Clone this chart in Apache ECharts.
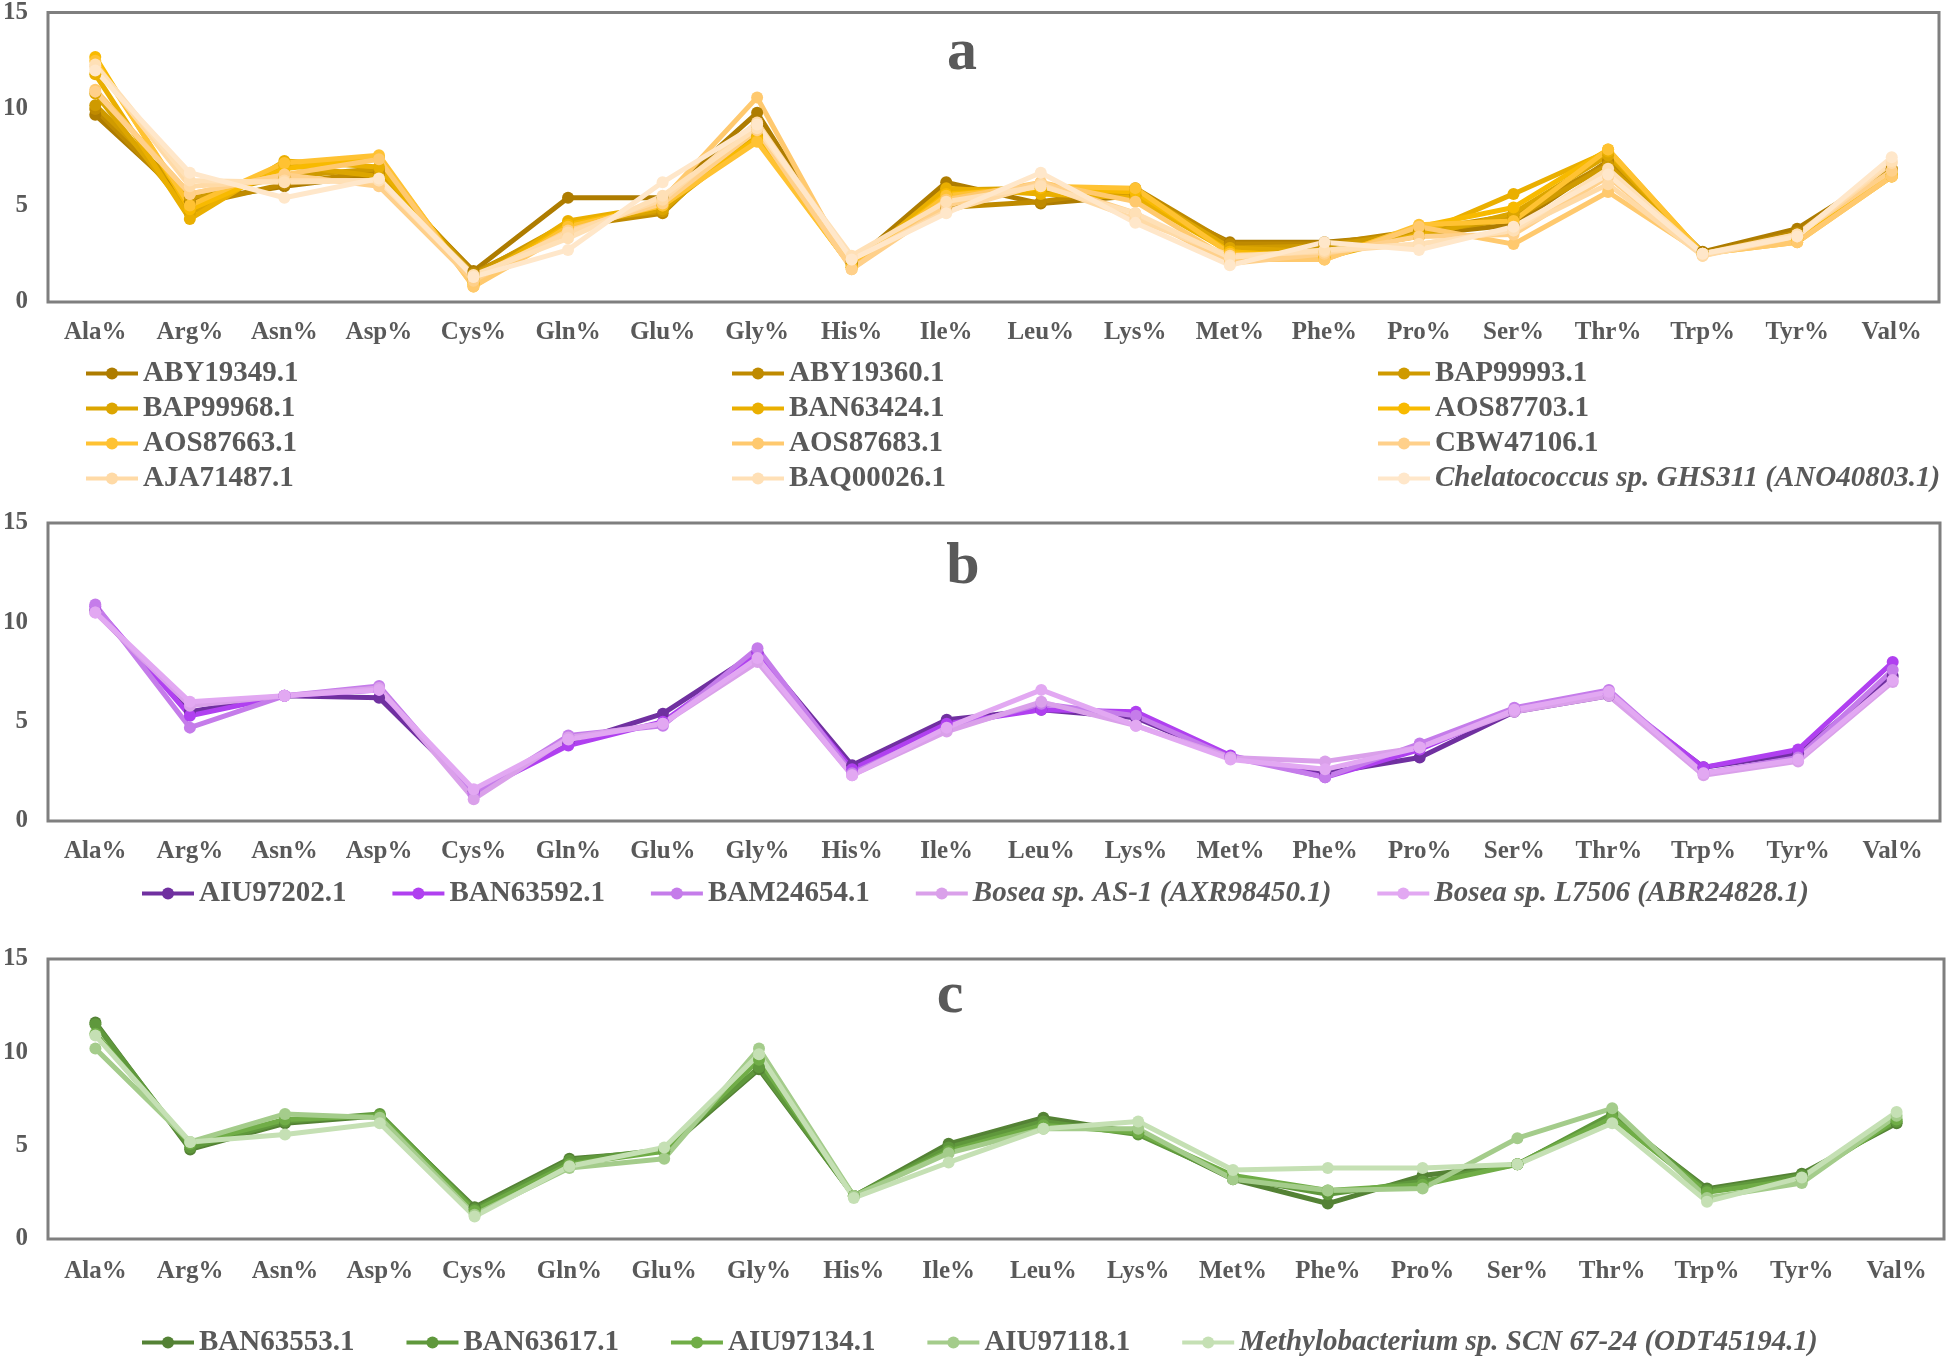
<!DOCTYPE html>
<html>
<head>
<meta charset="utf-8">
<script src="https://cdn.jsdelivr.net/npm/echarts@6/dist/echarts.min.js"></script>
<style>
html,body{margin:0;padding:0;background:#fff;}
#chart{width:1947px;height:1359px;}
</style>
</head>
<body>
<div id="chart"></div>
<script>
// ---------- DATA ----------
const categories = ['Ala%','Arg%','Asn%','Asp%','Cys%','Gln%','Glu%','Gly%','His%','Ile%','Leu%','Lys%','Met%','Phe%','Pro%','Ser%','Thr%','Trp%','Tyr%','Val%'];
const yTicks = [0, 5, 10, 15];

// Panel a
const namesA = ['ABY19349.1','ABY19360.1','BAP99993.1','BAP99968.1','BAN63424.1','AOS87703.1','AOS87663.1','AOS87683.1','CBW47106.1','AJA71487.1','BAQ00026.1','Chelatococcus sp. GHS311 (ANO40803.1)'];
const colorsA = ['#AE7C00','#BF8A00','#CF9A00','#DCA500','#EAAF00','#F8BA00','#FFC232','#FFC96E','#FFD08A','#FFDAA6','#FFE0B6','#FFE7CA'];
const a_ABY19349 = [9.7,5.2,6.0,6.6,1.6,5.4,5.4,9.8,2.0,6.2,5.1,5.5,3.1,3.1,3.5,4.0,7.3,2.6,3.8,6.9];
const a_ABY19360 = [10.0,5.0,6.1,6.8,1.5,3.9,4.6,9.3,2.1,4.9,5.2,5.9,3.0,3.0,3.7,4.5,7.2,2.5,3.6,6.9];
const a_BAP99993 = [10.2,5.4,6.5,6.9,1.4,4.1,4.7,9.0,2.0,5.6,5.8,5.6,2.8,2.9,3.6,4.3,7.1,2.5,3.5,6.8];
const a_BAP99968 = [10.8,4.6,7.1,6.5,1.2,4.0,4.8,8.6,1.9,5.8,5.9,5.8,2.8,2.6,3.4,4.6,7.6,2.5,3.3,6.6];
const a_BAN63424 = [11.8,4.3,7.3,7.0,1.0,4.2,5.0,8.4,1.8,5.9,5.6,5.4,2.6,2.3,3.5,5.6,7.8,2.5,3.2,6.5];
const a_AOS87703 = [12.7,4.8,6.9,7.5,0.9,4.0,5.0,8.5,1.8,5.6,5.9,5.7,2.6,2.3,3.9,4.9,7.9,2.5,3.2,6.6];
const a_AOS87663 = [12.5,5.0,7.2,7.6,0.8,3.9,5.0,8.3,1.8,5.5,6.0,5.9,2.5,2.2,4.0,4.2,7.9,2.5,3.1,6.5];
const a_AOS87683 = [11.0,5.6,6.6,7.4,0.8,3.6,5.3,10.6,1.7,5.3,6.2,5.2,2.2,2.2,3.9,3.0,5.7,2.5,3.1,6.5];
const a_CBW47106 = [10.9,5.6,6.6,6.0,1.1,3.7,5.1,8.9,1.7,5.0,6.2,4.6,2.0,2.5,3.4,3.5,6.5,2.4,3.5,6.8];
const a_AJA71487 = [12.2,6.0,6.3,6.3,1.3,3.6,5.3,9.3,2.2,4.7,6.1,4.3,2.4,2.6,3.0,3.7,6.1,2.4,3.4,7.2];
const a_BAQ00026 = [12.3,6.3,6.2,6.3,1.4,3.3,5.5,9.0,2.4,5.2,6.0,4.6,2.3,2.7,3.0,3.7,6.9,2.5,3.5,7.3];
const a_ANO40803 = [12.0,6.7,5.4,6.4,1.3,2.7,6.2,9.2,2.2,4.6,6.7,4.1,1.9,3.1,2.7,3.9,6.6,2.5,3.4,7.5];
const valuesA = [a_ABY19349,a_ABY19360,a_BAP99993,a_BAP99968,a_BAN63424,a_AOS87703,a_AOS87663,a_AOS87683,a_CBW47106,a_AJA71487,a_BAQ00026,a_ANO40803];

// Panel b
const namesB = ['AIU97202.1','BAN63592.1','BAM24654.1','Bosea sp. AS-1 (AXR98450.1)','Bosea sp. L7506 (ABR24828.1)'];
const colorsB = ['#7030A0','#B040F0','#C57CEA','#DAA0EA','#E2A8F2'];
const b_AIU97202 = [10.6,5.5,6.3,6.2,1.5,3.9,5.4,8.5,2.8,5.1,5.6,5.2,3.2,2.4,3.2,5.5,6.3,2.7,3.4,7.3];
const b_BAN63592 = [10.8,5.3,6.3,6.6,1.4,3.8,5.0,8.4,2.6,4.9,5.6,5.5,3.3,2.2,3.6,5.6,6.4,2.7,3.6,8.0];
const b_BAM24654 = [10.9,4.7,6.3,6.8,1.3,4.3,4.8,8.7,2.4,4.6,5.9,5.3,3.2,2.2,3.9,5.7,6.6,2.4,3.2,7.6];
const b_AXR98450 = [10.5,5.8,6.3,6.7,1.1,4.2,4.9,8.0,2.3,4.5,6.0,4.8,3.2,3.0,3.7,5.5,6.3,2.3,3.0,7.0];
const b_ABR24828 = [10.5,6.0,6.3,6.6,1.6,4.1,4.9,8.2,2.3,4.7,6.6,4.8,3.1,2.6,3.7,5.6,6.5,2.4,3.1,7.1];
const valuesB = [b_AIU97202,b_BAN63592,b_BAM24654,b_AXR98450,b_ABR24828];

// Panel c
const namesC = ['BAN63553.1','BAN63617.1','AIU97134.1','AIU97118.1','Methylobacterium sp. SCN 67-24 (ODT45194.1)'];
const colorsC = ['#548235','#5F983C','#70AD47','#A4CC8B','#C5E0B4'];
const c_BAN63553 = [11.6,4.8,6.2,6.6,1.7,4.3,4.7,9.1,2.3,5.1,6.5,5.7,3.2,1.9,3.4,4.0,6.6,2.7,3.5,6.2];
const c_BAN63617 = [11.5,4.9,6.3,6.7,1.6,4.2,4.8,9.2,2.3,4.9,6.3,5.6,3.3,2.4,3.1,4.0,6.7,2.6,3.4,6.3];
const c_AIU97134 = [11.0,5.1,6.4,6.6,1.5,4.0,4.7,9.6,2.3,4.7,6.1,5.7,3.4,2.6,2.9,4.0,6.5,2.5,3.2,6.4];
const c_AIU97118 = [10.2,5.2,6.7,6.5,1.3,3.8,4.3,10.2,2.3,4.6,5.9,5.9,3.2,2.6,2.7,5.4,7.0,2.2,3.0,6.6];
const c_ODT45194 = [10.9,5.2,5.6,6.2,1.2,3.9,4.9,9.9,2.2,4.1,5.9,6.3,3.7,3.8,3.8,4.0,6.2,2.0,3.3,6.8];
const valuesC = [c_BAN63553,c_BAN63617,c_AIU97134,c_AIU97118,c_ODT45194];

// ---------- CHART ----------
const FONT = '"Liberation Serif", "Times New Roman", serif';
const TXT = '#595959';
const chart = echarts.init(document.getElementById('chart'), null, {renderer: 'canvas'});

const grids = [
  {left: 44, top: 9, width: 1895, height: 293},
  {left: 45, top: 523, width: 1895, height: 298},
  {left: 47, top: 959, width: 1897, height: 280}
];

function mkX(i){
  return {type:'category', gridIndex:i, data:categories, boundaryGap:true,
    axisLine:{show:false}, axisTick:{show:false},
    axisLabel:{color:TXT, fontFamily:FONT, fontWeight:'bold', fontSize:25, margin: i===2?20:18, interval:0}};
}
function mkY(i){
  return {type:'value', gridIndex:i, min:yTicks[0], max:yTicks[yTicks.length-1], interval:5,
    axisLine:{show:false}, axisTick:{show:false}, splitLine:{show:false},
    axisLabel:{color:TXT, fontFamily:FONT, fontWeight:'bold', fontSize:25, margin:20}};
}

const series = [];
function addSeries(names, colors, values, gi){
  names.forEach((n, k) => {
    series.push({
      type:'line', name:n, xAxisIndex:gi, yAxisIndex:gi, data:values[k],
      symbol:'circle', symbolSize:12, showSymbol:true,
      lineStyle:{color:colors[k], width:5}, itemStyle:{color:colors[k]},
      emphasis:{disabled:true}, animation:false
    });
  });
}
addSeries(namesA, colorsA, valuesA, 0);
addSeries(namesB, colorsB, valuesB, 1);
addSeries(namesC, colorsC, valuesC, 2);

const italicNames = new Set(['Chelatococcus sp. GHS311 (ANO40803.1)','Bosea sp. AS-1 (AXR98450.1)','Bosea sp. L7506 (ABR24828.1)','Methylobacterium sp. SCN 67-24 (ODT45194.1)']);
const legendText = {
  color:TXT, fontFamily:FONT, fontWeight:'bold', fontSize:29,
  rich:{ i:{color:TXT, fontFamily:FONT, fontWeight:'bold', fontStyle:'italic', fontSize:29} }
};
function fmt(name){ return italicNames.has(name) ? '{i|' + name + '}' : name; }
function legendBase(extra){
  return Object.assign({
    itemWidth:52, itemHeight:15,
    lineStyle:{width:4}, textStyle:legendText, formatter:fmt, selectedMode:false, padding:0
  }, extra);
}

const legends = [
  legendBase({orient:'vertical', left:84, top:359, itemGap:6, data:[namesA[0],namesA[3],namesA[6],namesA[9]]}),
  legendBase({orient:'vertical', left:730, top:359, itemGap:6, data:[namesA[1],namesA[4],namesA[7],namesA[10]]}),
  legendBase({orient:'vertical', left:1376, top:359, itemGap:6, data:[namesA[2],namesA[5],namesA[8],namesA[11]]}),
  legendBase({orient:'horizontal', left:140, top:879, itemGap:44, data:namesB}),
  legendBase({orient:'horizontal', left:140, top:1328, itemGap:50, data:namesC})
];

const panelLabels = [
  {text:'a', x:962, y:53},
  {text:'b', x:963, y:567},
  {text:'c', x:950, y:996}
];

chart.setOption({
  backgroundColor:'#ffffff',
  animation:false,
  grid: grids.map(g => Object.assign({show:true, borderColor:'#7f7f7f', borderWidth:3, backgroundColor:'transparent', containLabel:false}, g)),
  xAxis: [0,1,2].map(mkX),
  yAxis: [0,1,2].map(mkY),
  legend: legends,
  series: series,
  graphic: panelLabels.map(p => ({
    type:'text', x:p.x, y:p.y, z:100,
    style:{text:p.text, fill:TXT, font:'bold 60px ' + FONT, textAlign:'center', textVerticalAlign:'middle'}
  }))
});
</script>
</body>
</html>
